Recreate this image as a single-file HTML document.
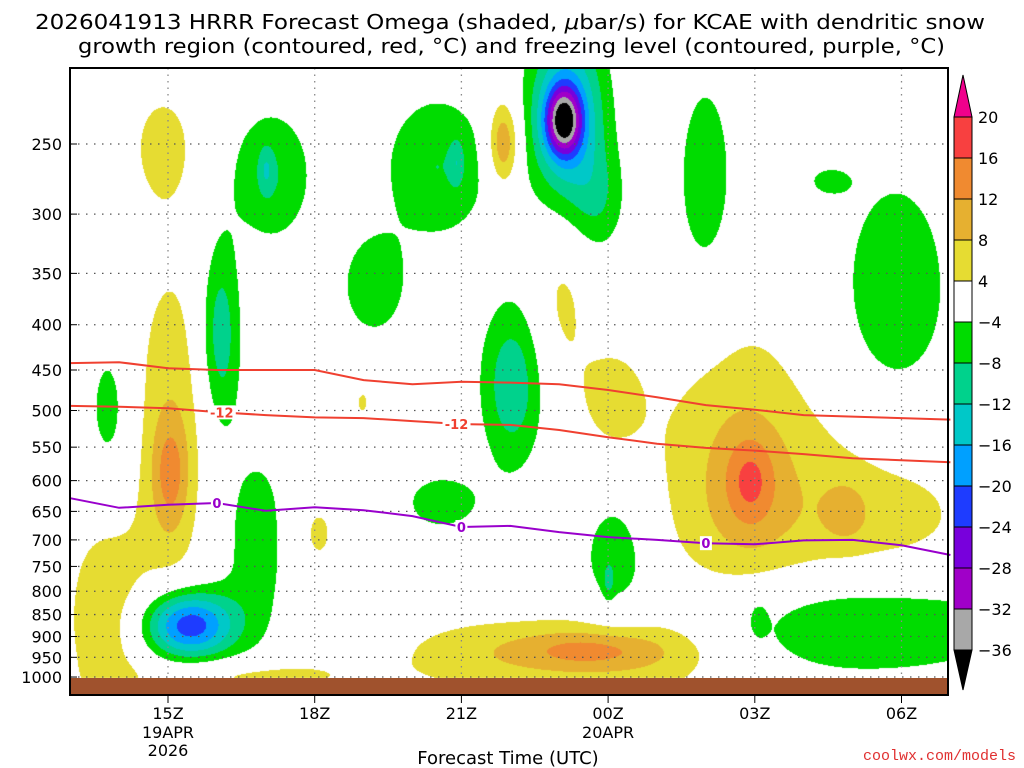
<!DOCTYPE html>
<html><head><meta charset="utf-8">
<style>
body{margin:0;background:#fff;width:1024px;height:768px;overflow:hidden;font-family:"DejaVu Sans","Liberation Sans",sans-serif}
#wrap{position:relative;width:1024px;height:768px}
canvas{position:absolute;left:0;top:0}
svg{position:absolute;left:0;top:0}
</style></head>
<body>
<div id="wrap">
<canvas id="field" width="1024" height="768"></canvas>
<svg id="s" width="1024" height="768" xmlns="http://www.w3.org/2000/svg"></svg>
</div>
<script>
// ---- data ----
const hours=[13,14,15,16,17,18,19,20,21,22,23,24,25,26,27,28,29,30,31];
const redUpper=[442,441,448,450,450,450,462,467,464,465,467,474,483,493,499,506,508,510,512];
const redLower=[494,495,497,502,506,509,510,514,518,519,526,536,545,551,555,560,566,569,572];
const purpleLine=[628,644,639,636,649,643,648,658,677,675,686,695,700,706,708,701,700,710,728];
const pressureTicks=[250,300,350,400,450,500,550,600,650,700,750,800,850,900,950,1000];
const timeTicks=[15,18,21,24,27,30];
const timeLabels=["15Z","18Z","21Z","00Z","03Z","06Z"];
const cbLevels=[20,16,12,8,4,-4,-8,-12,-16,-20,-24,-28,-32,-36];
// omega blobs
const blobHour=[13.8,17.1,17.0,16.06,15.4,16.8,19.2,20.5,20.9,22.03,20.6,23.08,23.15,23.8,25.98,24.14,24.0,29.87,28.5,29.0,27.07,
  14.88,15.04,15.04,18.03,21.85,23.04,18.97,24.06,26.6,26.9,29.36,28.85,21.5,24.6,23.6,13.7,16.8];
const blobPres=[500,271,267,410,873,700,361,265,262,467,634,235,232,290,278,728,780,366,275,870,860,
  250,526,590,688,249,370,489,484,583,600,665,650,945,935,932,860,995];
const blobSigH=[0.34,0.61,0.1,0.29,0.66,0.55,0.5,0.8,0.1,0.46,0.66,0.25,0.55,0.4,0.52,0.48,0.08,0.87,0.35,2.6,0.12,
  0.55,0.58,0.25,0.37,0.23,0.43,0.12,0.55,1.13,0.35,1.8,0.3,1.6,1.4,1.1,0.6,1.4];
const blobSigP=[0.145,0.128,0.04,0.174,0.063,0.2,0.1,0.14,0.04,0.155,0.063,0.06,0.17,0.1,0.255,0.118,0.03,0.24,0.03,0.1,0.03,
  0.124,0.34,0.1,0.085,0.08,0.17,0.03,0.12,0.29,0.08,0.2,0.05,0.08,0.09,0.035,0.2,0.03];
const blobAmp=[-6,-8,-5,-11,-24,-6,-7,-8,-5,-11,-6,-25,-18,-6,-6,-7,-5,-7,-5,-10,-5,
  5,7,8,5,13,5,5,5,8,8,6,5,6,7,7,7,6];
const colors=["#f0008c","#f84040","#f08a30","#e6b030","#e6dc32","#ffffff","#00dc00","#00d28c","#00c8c8","#00a0ff","#1e3cff","#7800dc","#a000c8","#a8a8a8","#000000"];

// ---- scales ----
const L=70,R=948,T=68,B=695,G=678;
function xS(h){return 168+(h-15)*48.9;}
function yS(p){return 144+384.5*Math.log(p/250);}
function hInv(x){return 15+(x-168)/48.9;}
function pInv(y){return 250*Math.exp((y-144)/384.5);}
function colorFor(v){
  if(v>=20)return colors[0];
  for(let i=0;i<cbLevels.length-1;i++){ if(v>=cbLevels[i+1]) return colors[i+1]; }
  return colors[14];
}
// ---- field ----
const cv=document.getElementById('field');const ctx=cv.getContext('2d');
const img=ctx.createImageData(R-L,G-T);
function hex(c){return [parseInt(c.substr(1,2),16),parseInt(c.substr(3,2),16),parseInt(c.substr(5,2),16)];}
const cache={};
for(let py=0;py<G-T;py++){
  const lp=Math.log(pInv(py+T));
  for(let px=0;px<R-L;px++){
    const h=hInv(px+L);let v=0;
    for(let k=0;k<blobAmp.length;k++){
      const dh=(h-blobHour[k])/blobSigH[k], dp=(lp-Math.log(blobPres[k]))/blobSigP[k];
      const e=dh*dh+dp*dp; if(e<30) v+=blobAmp[k]*Math.exp(-e/2);
    }
    const c=colorFor(v);const rgb=cache[c]||(cache[c]=hex(c));
    const i=(py*(R-L)+px)*4;img.data[i]=rgb[0];img.data[i+1]=rgb[1];img.data[i+2]=rgb[2];img.data[i+3]=255;
  }
}
ctx.putImageData(img,L,T);

// ---- svg ----
const S=document.getElementById('s');const NS="http://www.w3.org/2000/svg";
function mk(tag,attrs,name,txt){const e=document.createElementNS(NS,tag);for(const k in attrs)e.setAttribute(k,attrs[k]);
  
  
  if(txt!==undefined)e.textContent=txt;S.appendChild(e);return e;}
// ground
mk('rect',{x:L,y:G,width:R-L,height:B-G,fill:'#a0522d'},'ground');
// grid
pressureTicks.forEach(p=>{const y=yS(p);
  mk('line',{x1:L,x2:R,y1:y,y2:y,stroke:'#555','stroke-width':1.3,'stroke-dasharray':'1.5 6.5'},'grid-line-'+p);
  mk('line',{x1:L,x2:L+7,y1:y,y2:y,stroke:'#000','stroke-width':1},'y-tick-'+p);
  mk('text',{x:62,y:y+6,'text-anchor':'end','font-size':16,fill:'#000'},'y-tick-label-'+p,String(p));
});
timeTicks.forEach((t,i)=>{const x=xS(t);
  mk('line',{x1:x,x2:x,y1:T,y2:G,stroke:'#888','stroke-width':1.3,'stroke-dasharray':'1.5 5'},'vgrid-'+timeLabels[i]);
  mk('line',{x1:x,x2:x,y1:B,y2:B+8,stroke:'#000','stroke-width':1},'x-tick-'+timeLabels[i]);
  mk('text',{x:x,y:719,'text-anchor':'middle','font-size':16,fill:'#000'},'x-tick-label-'+timeLabels[i],timeLabels[i]);
});
mk('text',{x:xS(15),y:738,'text-anchor':'middle','font-size':16},'date-label-1','19APR');
mk('text',{x:xS(15),y:756,'text-anchor':'middle','font-size':16},'year-label','2026');
mk('text',{x:xS(24),y:738,'text-anchor':'middle','font-size':16},'date-label-2','20APR');
// contour lines
function line(arr,color,name){
  const pts=hours.map((h,i)=>xS(h).toFixed(1)+','+yS(arr[i]).toFixed(1)).join(' ');
  mk('polyline',{points:pts,fill:'none',stroke:color,'stroke-width':2},name);
}
function lab(arr,h,txt,color,name){
  let i=0;while(i<hours.length-2&&hours[i+1]<h)i++;
  const f=(h-hours[i])/(hours[i+1]-hours[i]);const p=arr[i]+(arr[i+1]-arr[i])*f;
  const x=xS(h),y=yS(p);const w=txt.length*8+4;
  mk('rect',{x:x-w/2,y:y-7,width:w,height:14,fill:'#fff'},name+'-bg');
  mk('text',{x:x,y:y+5,'text-anchor':'middle','font-size':13,'font-weight':'bold',fill:color},name,txt);
}
line(redUpper,'#f04030','dgz-upper-line');
line(redLower,'#f04030','dgz-lower-line');
line(purpleLine,'#9900cc','freezing-level-line');
lab(redLower,16.1,'-12','#f04030','dgz-label-1');
lab(redLower,20.9,'-12','#f04030','dgz-label-2');
lab(purpleLine,16.0,'0','#9900cc','fz-label-1');
lab(purpleLine,21.0,'0','#9900cc','fz-label-2');
lab(purpleLine,26.0,'0','#9900cc','fz-label-3');
// frame
mk('rect',{x:L,y:T,width:R-L,height:B-T,fill:'none',stroke:'#000','stroke-width':2},'plot-frame');
// colorbar
const cx=954,cw=18,top0=117,step=41;
mk('polygon',{points:`${cx},${top0} ${cx+cw},${top0} ${cx+cw/2},75`,fill:colors[0],stroke:'#000'},'colorbar-top-arrow');
for(let i=0;i<13;i++){mk('rect',{x:cx,y:top0+i*step,width:cw,height:step,fill:colors[i+1],stroke:'#000','stroke-width':1},'colorbar-bin-'+i);}
mk('polygon',{points:`${cx},${top0+13*step} ${cx+cw},${top0+13*step} ${cx+cw/2},690`,fill:colors[14],stroke:'#000'},'colorbar-bottom-arrow');
cbLevels.forEach((v,i)=>{mk('text',{x:978,y:top0+i*step+6,'font-size':16,fill:'#000'},'colorbar-label-'+i,v<0?'\u2212'+(-v):String(v));});
</script>
<svg width="1024" height="768" style="position:absolute;left:0;top:0;pointer-events:none">
<text x="35" y="29" font-size="20" textLength="950" lengthAdjust="spacingAndGlyphs">2026041913 HRRR Forecast Omega (shaded, <tspan font-style="italic">μ</tspan>bar/s) for KCAE with dendritic snow</text>
<text x="78" y="53" font-size="20" textLength="867" lengthAdjust="spacingAndGlyphs">growth region (contoured, red, °C) and freezing level (contoured, purple, °C)</text>
<text x="508" y="764" text-anchor="middle" font-size="18">Forecast Time (UTC)</text>
<text x="1016" y="760" text-anchor="end" font-size="15" fill="#e03030" font-family="Liberation Mono, monospace">coolwx.com/models</text>
</svg>
</body></html>
